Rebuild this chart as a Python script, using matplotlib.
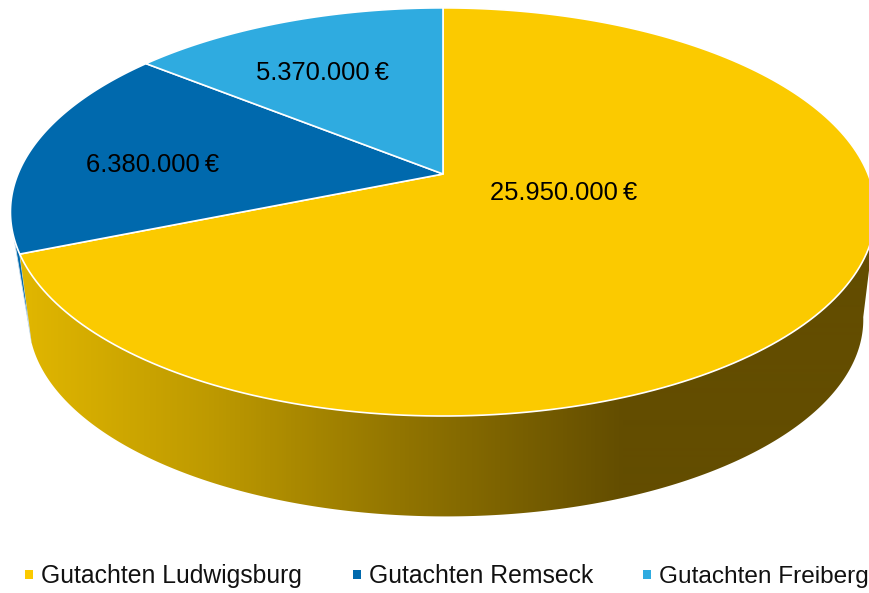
import numpy as np
import matplotlib
matplotlib.use("Agg")
import matplotlib.pyplot as plt
from matplotlib.patches import Polygon, Rectangle
from matplotlib.colors import LinearSegmentedColormap

categories = ["Gutachten Ludwigsburg", "Gutachten Remseck", "Gutachten Freiberg"]
values = [25950000, 6380000, 5370000]
colors = ["#FBCA00", "#0069AD", "#2FABE0"]
label_pos = [(490, 199.5), (86.5, 171.7), (256.5, 79.5)]
legend_text_x = [41.5, 369.5, 659]
legend_mark_x = [25, 353, 643]

plt.rcParams["font.family"] = ["Liberation Sans", "DejaVu Sans"]
fig = plt.figure(figsize=(8.7, 5.93), dpi=100)
ax = fig.add_axes([0, 0, 1, 1])
ax.set_xlim(0, 870)
ax.set_ylim(593, 0)
ax.axis("off")

K = 0.186


def rim(theta_deg, cx, cy, a, b):
    t = np.radians(np.asarray(theta_deg, dtype=float))
    X, Y = np.sin(t), np.cos(t)
    d = 1 + K * Y
    return np.column_stack([cx + a * X / d, cy - b * Y / d])


def top(t):
    return rim(t, 443, 174, 425, 197)


def low(t):
    return rim(t, 446, 283, 410, 190)


shares = np.array(values) / sum(values) * 360
edges = np.concatenate([[0], np.cumsum(shares)])
e1 = edges[1]

# side walls
blue_side = np.vstack([top(np.linspace(e1, e1 + 4.5, 8)), low([e1 + 4.8])])
ax.add_patch(Polygon(blue_side, closed=True, fc=colors[1], ec="#CFE0EC", lw=0.6, zorder=1))

yellow_side = np.vstack([top(np.linspace(105, e1, 300)),
                         low(np.linspace(e1 + 4.8, 100, 300))])
poly = Polygon(yellow_side, closed=True, fc="none", ec="none", transform=ax.transData)
ax.add_patch(poly)
cmap = LinearSegmentedColormap.from_list(
    "side", [(0, "#DFB500"), (0.30, "#BE9A00"), (0.62, "#927500"), (1, "#634D00")])
grad = np.clip((np.arange(870) - 30) / 595, 0, 1)[None, :]
im = ax.imshow(grad, cmap=cmap, extent=(0, 870, 593, 0), aspect="auto", zorder=2,
               vmin=0, vmax=1, interpolation="bilinear")
im.set_clip_path(poly)
ax.set_xlim(0, 870)
ax.set_ylim(593, 0)

# top faces
for i, c in enumerate(colors):
    th = np.linspace(edges[i], edges[i + 1], 200)
    pts = np.vstack([[[443, 174]], top(th)])
    ax.add_patch(Polygon(pts, closed=True, fc=c, ec="white", lw=1.2, joinstyle="round", zorder=3))

# value labels
for v, (x, y) in zip(values, label_pos):
    s = f"{v:,}".replace(",", ".") + "\u2009€"
    ax.text(x, y, s, fontsize=18.4, color="black", ha="left", va="baseline", zorder=5)

# legend
for name, c, tx, mx, fs in zip(categories, colors, legend_text_x, legend_mark_x, [17.8, 17.8, 17.6]):
    ax.add_patch(Rectangle((mx, 570), 8, 8.5, fc=c, ec="none", zorder=5))
    ax.text(tx, 582.7, name, fontsize=fs, color="#111111", ha="left", va="baseline", zorder=5)

fig.savefig("out.png", dpi=100, facecolor="white")
